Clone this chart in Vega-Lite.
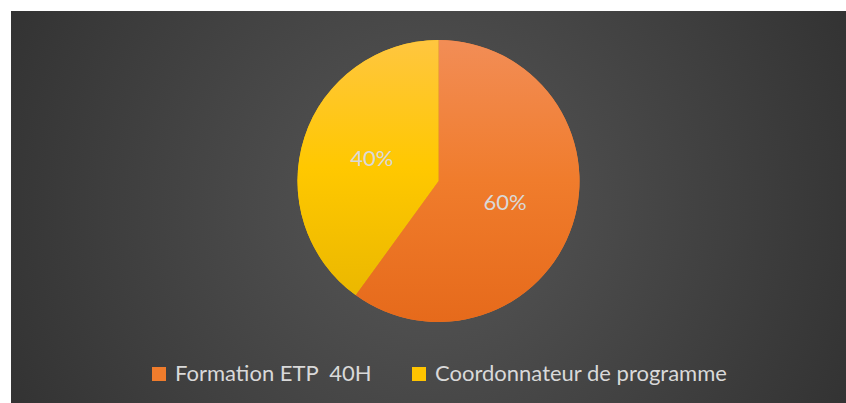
{
  "$schema": "https://vega.github.io/schema/vega-lite/v6.json",
  "width": 846,
  "height": 403,
  "autosize": {"type": "fit", "contains": "padding"},
  "padding": {"left": 11, "top": 11, "right": 0, "bottom": 0},
  "background": "#ffffff",
  "view": {
    "stroke": null,
    "fill": {
      "gradient": "radial",
      "x1": 0.5, "y1": 0.5, "r1": 0,
      "x2": 0.5, "y2": 0.5, "r2": 0.75,
      "stops": [
        {"offset": 0, "color": "#575757"},
        {"offset": 1, "color": "#262626"}
      ]
    }
  },
  "data": {
    "values": [
      {"categorie": "Formation ETP  40H", "part": 0.6, "rang": 1},
      {"categorie": "Coordonnateur de programme", "part": 0.4, "rang": 2}
    ]
  },
  "layer": [
    {
      "mark": {"type": "arc", "outerRadius": 141, "xOffset": 10, "yOffset": -26},
      "encoding": {
        "theta": {"field": "part", "type": "quantitative", "stack": true},
        "order": {"field": "rang", "type": "quantitative"},
        "color": {
          "field": "categorie",
          "type": "nominal",
          "scale": {
            "domain": ["Formation ETP  40H", "Coordonnateur de programme"],
            "range": ["#F07C2C", "#FFC400"]
          },
          "legend": {
            "title": null,
            "orient": "none",
            "direction": "horizontal",
            "legendX": 137,
            "legendY": 352,
            "padding": 0,
            "symbolType": "square",
            "symbolSize": 196,
            "symbolStrokeWidth": 0,
            "labelFont": "Lato",
            "labelFontSize": 22,
            "labelColor": "#d9d9d9",
            "labelOffset": 5,
            "labelLimit": 0,
            "columnPadding": 36,
            "labelExpr": "datum.value == 'Formation ETP  40H' ? '\u00a0' + replace(datum.label, '  ', '\u00a0 ') : datum.label"
          }
        }
      }
    },
    {
      "mark": {"type": "arc", "outerRadius": 141, "xOffset": 10, "yOffset": -26},
      "encoding": {
        "theta": {"field": "part", "type": "quantitative", "stack": true},
        "order": {"field": "rang", "type": "quantitative"},
        "fill": {
          "condition": {
            "test": "datum.rang == 1",
            "value": {"gradient": "linear", "x1": 0, "y1": 0, "x2": 0, "y2": 1,
              "stops": [{"offset": 0, "color": "#F28D56"}, {"offset": 0.5, "color": "#F07C2C"}, {"offset": 1, "color": "#E66A1B"}]}
          },
          "value": {"gradient": "linear", "x1": 0, "y1": 0, "x2": 0, "y2": 1,
            "stops": [{"offset": 0, "color": "#FFC640"}, {"offset": 0.5, "color": "#FFC800"}, {"offset": 1, "color": "#EBB800"}]}
        }
      }
    },
    {
      "mark": {"type": "text", "radius": 70, "xOffset": 10, "yOffset": -26, "font": "Lato", "fontSize": 22, "fill": "#d9d9d9"},
      "encoding": {
        "theta": {"field": "part", "type": "quantitative", "stack": true},
        "order": {"field": "rang", "type": "quantitative"},
        "text": {"field": "part", "type": "quantitative", "format": ".0%"}
      }
    }
  ]
}
